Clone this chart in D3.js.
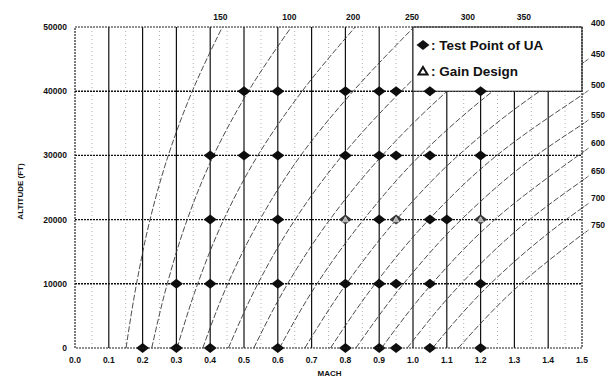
<!DOCTYPE html>
<html>
<head>
<meta charset="utf-8">
<script src="https://cdn.jsdelivr.net/npm/d3@7"></script>
<style>
  body { margin: 0; background: #fff; }
  text { font-family: "Liberation Sans", Arial, sans-serif; font-weight: bold; fill: #111; }
</style>
</head>
<body>
<div id="chart"></div>
<script>
// Axis ticks
const machTicks = [0, 0.1, 0.2, 0.3, 0.4, 0.5, 0.6, 0.7, 0.8, 0.9, 1.0, 1.1, 1.2, 1.3, 1.4, 1.5]
const machMinor = [0.05, 0.15, 0.25, 0.35, 0.45, 0.55, 0.65, 0.75, 0.85, 0.95, 1.05, 1.15, 1.25, 1.35, 1.45]
const altTicks = [0, 10000, 20000, 30000, 40000, 50000]

// Constant airspeed lines, [mach, altitude]
const kcas100 = [[0.151, 0], [0.182, 10000], [0.222, 20000], [0.276, 30000], [0.347, 40000], [0.436, 50000]]
const kcas150 = [[0.227, 0], [0.273, 10000], [0.332, 20000], [0.410, 30000], [0.513, 40000], [0.640, 50000]]
const kcas200 = [[0.302, 0], [0.363, 10000], [0.440, 20000], [0.541, 30000], [0.672, 40000], [0.829, 50000]]
const kcas250 = [[0.378, 0], [0.452, 10000], [0.547, 20000], [0.668, 30000], [0.823, 40000], [1.003, 50000]]
const kcas300 = [[0.454, 0], [0.541, 10000], [0.651, 20000], [0.791, 30000], [0.965, 40000], [1.168, 50000]]
const kcas350 = [[0.529, 0], [0.629, 10000], [0.754, 20000], [0.909, 30000], [1.101, 40000], [1.334, 50000]]
const kcas400 = [[0.605, 0], [0.716, 10000], [0.854, 20000], [1.021, 30000], [1.236, 40000], [1.5, 49900]]
const kcas450 = [[0.680, 0], [0.803, 10000], [0.951, 20000], [1.134, 30000], [1.375, 40000], [1.5, 44300]]
const kcas500 = [[0.756, 0], [0.888, 10000], [1.047, 20000], [1.248, 30000], [1.5, 39400]]
const kcas550 = [[0.831, 0], [0.972, 10000], [1.143, 20000], [1.365, 30000], [1.5, 34800]]
const kcas600 = [[0.907, 0], [1.056, 10000], [1.242, 20000], [1.5, 30400]]
const kcas650 = [[0.983, 0], [1.142, 10000], [1.345, 20000], [1.5, 26050]]
const kcas700 = [[1.058, 0], [1.229, 10000], [1.453, 20000], [1.5, 21800]]
const kcas750 = [[1.134, 0], [1.319, 10000], [1.5, 17650]]

const topCurves = [kcas100, kcas150, kcas200, kcas250, kcas300, kcas350]
const topLabels = ['150', '100', '200', '250', '300', '350']
const rightCurves = [kcas400, kcas450, kcas500, kcas550, kcas600, kcas650, kcas700, kcas750]
const rightLabels = ['400', '450', '500', '550', '600', '650', '700', '750']

// Test points per altitude
const testAlt0 = [0.2, 0.3, 0.4, 0.6, 0.8, 0.9, 0.95, 1.05, 1.2]
const testAlt10k = [0.3, 0.4, 0.6, 0.8, 0.9, 0.95, 1.05, 1.2]
const testAlt20k = [0.4, 0.6, 0.9, 1.05, 1.1]
const testAlt30k = [0.4, 0.5, 0.6, 0.8, 0.9, 0.95, 1.05, 1.2]
const testAlt40k = [0.5, 0.6, 0.8, 0.9, 0.95, 1.05, 1.2]
const gainMach = [0.8, 0.95, 1.2]
const gainAlt = [20000, 20000, 20000]

const W = 613
const H = 377
const plot = { left: 75, right: 582, top: 27, bottom: 348 }

const svg = d3.select('#chart')
  .append('svg')
  .attr('width', W)
  .attr('height', H)

const x = d3.scaleLinear().domain([0, 1.5]).range([plot.left, plot.right])
const y = d3.scaleLinear().domain([0, 50000]).range([plot.bottom, plot.top])

svg.append('defs').append('clipPath').attr('id', 'clip')
  .append('rect')
  .attr('x', plot.left).attr('y', plot.top)
  .attr('width', plot.right - plot.left).attr('height', plot.bottom - plot.top)

// Minor vertical grid
svg.append('g').selectAll('line')
  .data(machMinor)
  .enter().append('line')
  .attr('x1', d => x(d)).attr('x2', d => x(d))
  .attr('y1', plot.top).attr('y2', plot.bottom)
  .attr('stroke', '#9a9a9a')
  .attr('stroke-width', 0.8)
  .attr('stroke-dasharray', '1,3')

// Major vertical grid
svg.append('g').selectAll('line')
  .data(machTicks.slice(1, -1))
  .enter().append('line')
  .attr('x1', d => x(d)).attr('x2', d => x(d))
  .attr('y1', plot.top).attr('y2', plot.bottom)
  .attr('stroke', '#111')
  .attr('stroke-width', 1.2)

// Horizontal grid
svg.append('g').selectAll('line')
  .data(altTicks.slice(1, -1))
  .enter().append('line')
  .attr('x1', plot.left).attr('x2', plot.right)
  .attr('y1', d => y(d)).attr('y2', d => y(d))
  .attr('stroke', '#111')
  .attr('stroke-width', 1.4)
  .attr('stroke-dasharray', '2,1')

// Airspeed lines
const line = d3.line()
  .x(d => x(d[0]))
  .y(d => y(d[1]))
  .curve(d3.curveMonotoneY)

const allCurves = [kcas100, kcas150, kcas200, kcas250, kcas300, kcas350, kcas400,
  kcas450, kcas500, kcas550, kcas600, kcas650, kcas700, kcas750]

svg.append('g').attr('clip-path', 'url(#clip)')
  .selectAll('path')
  .data(allCurves)
  .enter().append('path')
  .attr('d', line)
  .attr('fill', 'none')
  .attr('stroke', '#3a3a3a')
  .attr('stroke-width', 0.9)
  .attr('stroke-dasharray', '6,2')

// Short tails past the right border
svg.append('g').selectAll('line')
  .data(rightCurves.slice(1))
  .enter().append('line')
  .attr('x1', plot.right)
  .attr('y1', d => y(d[d.length - 1][1]))
  .attr('x2', plot.right + 7)
  .attr('y2', d => y(d[d.length - 1][1]) - 5)
  .attr('stroke', '#3a3a3a')
  .attr('stroke-width', 0.9)
  .attr('stroke-dasharray', '3,1')

// Legend box
const legend = svg.append('g')
legend.append('rect')
  .attr('x', x(1.0)).attr('y', plot.top)
  .attr('width', x(1.5) - x(1.0)).attr('height', y(40000) - plot.top)
  .attr('fill', '#fff')
  .attr('stroke', '#222')
  .attr('stroke-width', 1)

const diamond = 'M0,-5L6.5,0L0,5L-6.5,0Z'
const triangle = 'M0,-4L4.5,3.5L-4.5,3.5Z'

legend.append('path')
  .attr('d', diamond)
  .attr('transform', 'translate(423,45)')
  .attr('fill', '#111')
legend.append('text')
  .attr('x', 431).attr('y', 50)
  .attr('font-size', 13.5)
  .text(': Test Point of UA')
legend.append('path')
  .attr('d', triangle)
  .attr('transform', 'translate(423,71)')
  .attr('fill', 'none')
  .attr('stroke', '#111')
  .attr('stroke-width', 2)
legend.append('text')
  .attr('x', 431).attr('y', 76)
  .attr('font-size', 13.5)
  .text(': Gain Design')

// Test points
const testRows = [[0, testAlt0], [10000, testAlt10k], [20000, testAlt20k], [30000, testAlt30k], [40000, testAlt40k]]
const testPoints = testRows.flatMap(([alt, machs]) => machs.map(m => ({ m, alt })))

svg.append('g').selectAll('path')
  .data(testPoints)
  .enter().append('path')
  .attr('d', diamond)
  .attr('transform', d => `translate(${x(d.m)},${y(d.alt)})`)
  .attr('fill', '#0d0d0d')

// Gain design points
const gainPoints = gainMach.map((m, i) => ({ m, alt: gainAlt[i] }))
const gain = svg.append('g').selectAll('g')
  .data(gainPoints)
  .enter().append('g')
  .attr('transform', d => `translate(${x(d.m)},${y(d.alt)})`)
gain.append('path')
  .attr('d', diamond)
  .attr('fill', '#333')
gain.append('path')
  .attr('d', 'M0,-2.8L3,2.2L-3,2.2Z')
  .attr('fill', '#aaa')
  .attr('stroke', '#ddd')
  .attr('stroke-width', 0.8)

// Plot border
svg.append('rect')
  .attr('x', plot.left).attr('y', plot.top)
  .attr('width', plot.right - plot.left).attr('height', plot.bottom - plot.top)
  .attr('fill', 'none')
  .attr('stroke', '#222')
  .attr('stroke-width', 1.2)
  .attr('stroke-dasharray', '2,1')

// Axis tick labels
svg.append('g').selectAll('text')
  .data(machTicks)
  .enter().append('text')
  .attr('x', d => x(d))
  .attr('y', 363)
  .attr('text-anchor', 'middle')
  .attr('font-size', 8.5)
  .text(d => d3.format('.1f')(d))

svg.append('g').selectAll('text')
  .data(altTicks)
  .enter().append('text')
  .attr('x', 67)
  .attr('y', d => y(d) + 3)
  .attr('text-anchor', 'end')
  .attr('font-size', 8.5)
  .text(d => d)

svg.append('text')
  .attr('x', x(0.75) + 1).attr('y', 376)
  .attr('text-anchor', 'middle')
  .attr('font-size', 8)
  .text('MACH')

svg.append('text')
  .attr('transform', `translate(23,${y(25000) + 4}) rotate(-90)`)
  .attr('text-anchor', 'middle')
  .attr('font-size', 8)
  .text('ALTITUDE (FT)')

// Airspeed labels along the top and right
svg.append('g').selectAll('text')
  .data(topCurves)
  .enter().append('text')
  .attr('x', d => x(d[d.length - 1][0]) - 2)
  .attr('y', 20)
  .attr('text-anchor', 'middle')
  .attr('font-size', 8.5)
  .text((d, i) => topLabels[i])

svg.append('g').selectAll('text')
  .data(rightCurves)
  .enter().append('text')
  .attr('x', 598)
  .attr('y', d => Math.max(26, y(d[d.length - 1][1]) - 7))
  .attr('text-anchor', 'middle')
  .attr('font-size', 8.5)
  .text((d, i) => rightLabels[i])
</script>
</body>
</html>
